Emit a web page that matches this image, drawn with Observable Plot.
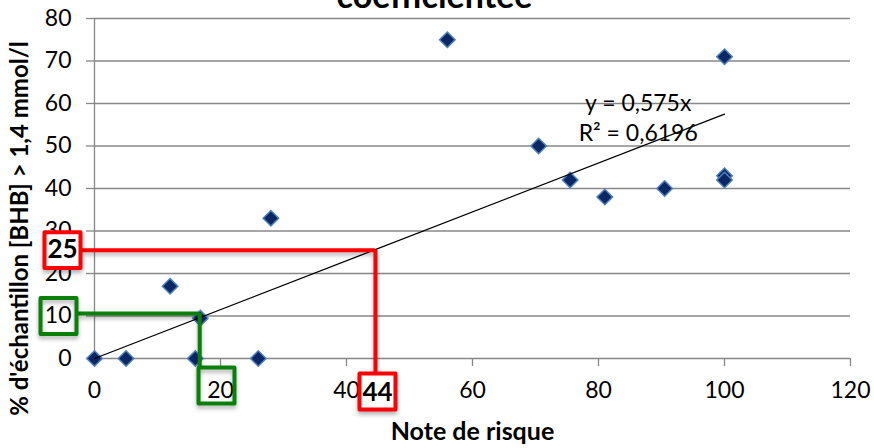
<!DOCTYPE html>
<html><head><meta charset="utf-8">
<script src="https://cdn.jsdelivr.net/npm/d3@7"></script>
<script src="https://cdn.jsdelivr.net/npm/@observablehq/plot@0.6"></script>
<style>
html,body{margin:0;padding:0;background:#fff;}
#chart{position:relative;width:874px;height:448px;overflow:hidden;}
</style></head><body><div id="chart"></div>
<script>
// ---- data ----
const title = "coefficientée";
const xLabel = "Note de risque";
const yLabel = "% d'échantillon [BHB] > 1,4 mmol/l";
const noteRisque     = [0, 5, 12, 16, 16.8, 26, 28, 56, 70.5, 75.5, 81, 90.5, 100, 100, 100];
const pctEchantillon = [0, 0, 17, 0, 9.5, 0, 33, 75, 50, 42, 38, 40, 71, 43, 42];
const xTicks = [0, 20, 40, 60, 80, 100, 120];
const yTicks = [0, 10, 20, 30, 40, 50, 60, 70, 80];
const trendSlope = 0.575;
const trendX = [0, 100];
const equationLines = ["y = 0,575x", "R² = 0,6196"];
const equationPos = [86.3, 56.9];
// reading annotations (red: 44 -> 25, green: ~17 -> 10)
const redRead = {x: 44.6, y: 25.5, xText: "44", yText: "25"};
const greenRead = {x: 16.7, y: 10.6, xTick: 20, yTick: 10};

const points = noteRisque.map((x, i) => ({x, y: pctEchantillon[i]}));
const trend = trendX.map(x => ({x, y: trendSlope * x}));
const grey = "#878787";
const red = "#ff0000";
const green = "#0a800a";

const plot = Plot.plot({
  width: 874, height: 448,
  marginLeft: 94, marginRight: 24, marginTop: 18, marginBottom: 90,
  style: {fontFamily: "Lato, 'Open Sans', sans-serif", fontSize: "23px", color: "#000", background: "#fff"},
  x: {domain: [0, 120], label: null},
  y: {domain: [0, 80], label: null},
  marks: [
    Plot.gridY(yTicks, {stroke: grey, strokeOpacity: 1, strokeWidth: 1.3}),
    Plot.gridX([0], {stroke: grey, strokeOpacity: 1, strokeWidth: 1.3}),
    Plot.axisY(yTicks, {tickSize: 8, tickPadding: 15, stroke: grey, strokeWidth: 1.3, fill: "#000", fontSize: 23, label: null}),
    Plot.axisX(xTicks, {tickSize: 8, tickPadding: 15, stroke: grey, strokeWidth: 1.3, fill: "#000", fontSize: 23, label: null}),
    Plot.dot(points, {x: "x", y: "y", symbol: "diamond2", r: 7, fill: "#0b2865", stroke: "#4f81bd", strokeWidth: 1.5}),
    Plot.line(trend, {x: "x", y: "y", stroke: "#000", strokeWidth: 1.3}),
    Plot.text([equationLines.join("\n")], {x: equationPos[0], y: equationPos[1], fontSize: 23, lineHeight: 1.3, fill: "#000"}),
    // red reading lines
    Plot.ruleY([redRead], {y: "y", x1: 0, x2: "x", stroke: red, strokeWidth: 4, insetLeft: -12}),
    Plot.ruleX([redRead], {x: "x", y1: "y", y2: 0, stroke: red, strokeWidth: 4, insetBottom: -15}),
    // green reading lines
    Plot.ruleY([greenRead], {y: "y", x1: 0, x2: "x", stroke: green, strokeWidth: 4, insetLeft: -16}),
    Plot.ruleX([greenRead], {x: "x", y1: "y", y2: 0, stroke: green, strokeWidth: 4, insetBottom: -8}),
    // boxes
    Plot.dot([redRead], {x: 0, y: "y", dx: -32, symbol: "square", r: 20.3, fill: "#fff", stroke: red, strokeWidth: 4, strokeLinejoin: "round"}),
    Plot.dot([redRead], {x: "x", y: 0, dx: 2, dy: 33, symbol: "square", r: 20.3, fill: "#fff", stroke: red, strokeWidth: 4, strokeLinejoin: "round"}),
    Plot.dot([greenRead], {x: 0, y: "yTick", dx: -36, symbol: "square", r: 20.3, fill: "none", stroke: green, strokeWidth: 4, strokeLinejoin: "round"}),
    Plot.dot([greenRead], {x: "xTick", y: 0, dx: -4, dy: 27, symbol: "square", r: 20.3, fill: "none", stroke: green, strokeWidth: 4, strokeLinejoin: "round"}),
    Plot.text([redRead], {x: 0, y: "y", dx: -32, text: "yText", fontWeight: "bold", fontSize: 26, fill: "#000"}),
    Plot.text([redRead], {x: "x", y: 0, dx: 2, dy: 34, text: "xText", fontWeight: "bold", fontSize: 26, fill: "#000"}),
    // labels
    Plot.text([title], {frameAnchor: "top", lineAnchor: "bottom", dx: -38, dy: -11, fontWeight: "bold", fontSize: 34, fill: "#000"}),
    Plot.text([xLabel], {frameAnchor: "bottom", dy: 81, fontWeight: "bold", fontSize: 25, fill: "#000"}),
    Plot.text([yLabel], {frameAnchor: "left", textAnchor: "middle", rotate: -90, dx: -74, dy: 40, fontWeight: "bold", fontSize: 24, fill: "#000"})
  ]
});
// soft drop shadow under the hand-drawn reading lines and boxes
d3.select(plot).selectAll('g[aria-label="rule"]').style("filter", "drop-shadow(0px 3px 2px rgba(0,0,0,0.3))");
d3.select(plot).selectAll('g[aria-label="dot"]').filter((d, i) => i > 0).style("filter", "drop-shadow(0px 3px 2px rgba(0,0,0,0.3))");
document.getElementById("chart").appendChild(plot);
</script>
</body></html>
